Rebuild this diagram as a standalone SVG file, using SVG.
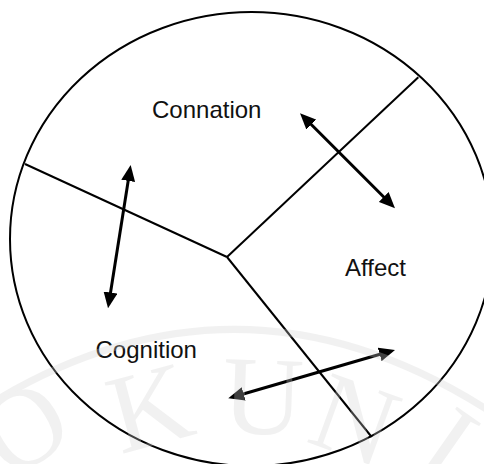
<svg xmlns="http://www.w3.org/2000/svg" width="484" height="464" viewBox="0 0 484 464">
  <style>
    .outline { fill: none; stroke: #000; stroke-width: 2; }
    .divider { fill: none; stroke: #000; stroke-width: 2; }
    .arrow { fill: none; stroke: #000; stroke-width: 3; marker-start: url(#head); marker-end: url(#head); }
    .label { font-family: "Liberation Sans", Arial, sans-serif; font-size: 24px; fill: #111; }
    .wmText { font-family: "Liberation Serif", "Times New Roman", serif; font-size: 112px; fill: #d2d2d2; }
  </style>
  <defs>
    <marker id="head" viewBox="0 0 16 14" markerWidth="16" markerHeight="14" refX="4" refY="7" markerUnits="userSpaceOnUse" orient="auto-start-reverse">
      <path d="M0,0 L16,7 L0,14 z" fill="#000"/>
    </marker>
  </defs>
  <rect width="484" height="464" fill="#fff"/>

  <g id="circle">
    <ellipse class="outline" cx="251.5" cy="239" rx="241.5" ry="227"/>
  </g>

  <g id="dividers">
    <line class="divider" x1="227" y1="257" x2="418.3" y2="77.3"/>
    <line class="divider" x1="227" y1="257" x2="25" y2="164"/>
    <line class="divider" x1="227" y1="257" x2="371.7" y2="437"/>
  </g>

  <g id="node-connation">
    <text class="label" x="152" y="118">Connation</text>
  </g>
  <g id="node-affect">
    <text class="label" x="345" y="276">Affect</text>
  </g>
  <g id="node-cognition">
    <text class="label" x="95.5" y="358">Cognition</text>
  </g>

  <g id="connectors">
    <line class="arrow" x1="308.5" y1="121.8" x2="386.5" y2="199.8"/>
    <line class="arrow" x1="128.8" y1="176.9" x2="109.9" y2="296.5"/>
    <line class="arrow" x1="383.5" y1="353.3" x2="239.8" y2="395"/>
  </g>

  <g id="watermark" opacity="0.3">
    <path d="M-10,404 Q242,250 494,414" fill="none" stroke="#d2d2d2" stroke-width="7"/>
    <text class="wmText" text-anchor="middle" transform="translate(24,428) rotate(-32)" y="37">O</text>
    <text class="wmText" text-anchor="middle" transform="translate(150,408) rotate(-15)" y="37">K</text>
    <text class="wmText" text-anchor="middle" transform="translate(263,397) rotate(2)" y="37">U</text>
    <text class="wmText" text-anchor="middle" transform="translate(355,420) rotate(20)" y="37">N</text>
    <text class="wmText" text-anchor="middle" transform="translate(448,445) rotate(35)" y="37">I</text>
  </g>
</svg>
